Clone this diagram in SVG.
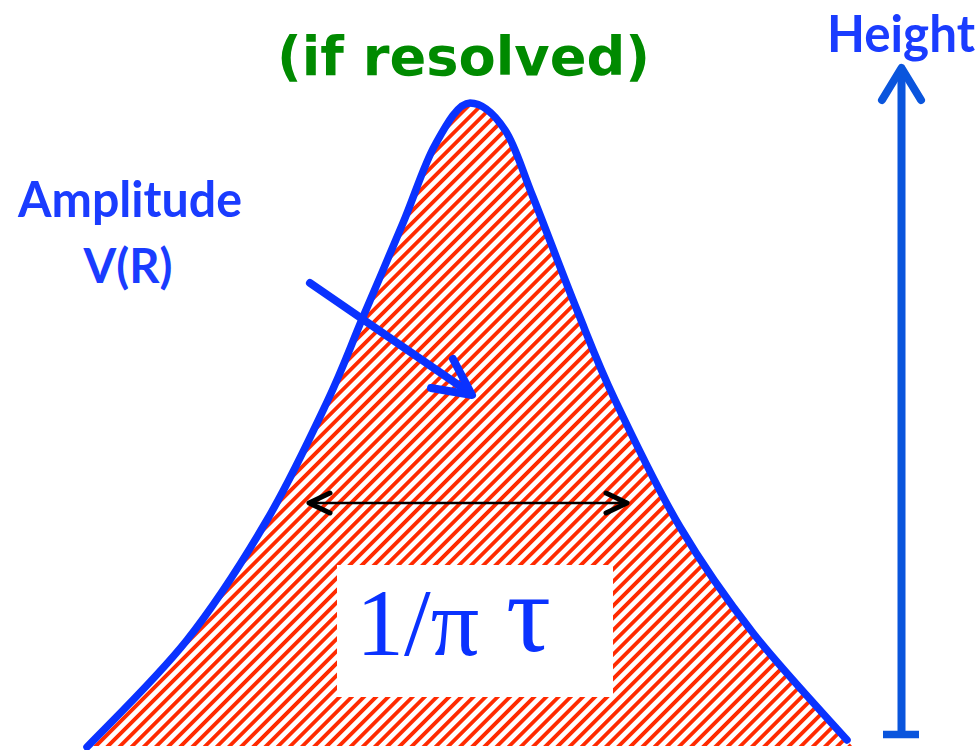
<svg xmlns="http://www.w3.org/2000/svg" width="980" height="750" viewBox="0 0 980 750">
  <style>
    .lbl { font-family: "Lato", "DejaVu Sans", sans-serif; font-weight: bold; }
    .ttl { font-family: "DejaVu Sans", "Lato", sans-serif; font-weight: bold; }
    .blue { fill: #1a3cff; }
    .math { font-family: "Liberation Serif", "DejaVu Serif", serif; fill: #0a32ff; }
    .curve { fill: none; stroke: #0a32ff; stroke-width: 7.5; stroke-linecap: round; stroke-linejoin: round; }
    .barrow { fill: none; stroke: #0a32ff; stroke-width: 8; stroke-linecap: round; stroke-linejoin: round; }
    .harrow { fill: none; stroke: #0a55dd; stroke-width: 8; stroke-linecap: round; stroke-linejoin: round; }
    .karrow { fill: none; stroke: #000; stroke-linecap: round; stroke-linejoin: round; }
  </style>
  <defs>
    <pattern id="hatch" patternUnits="userSpaceOnUse" width="8.6" height="8.6" patternTransform="rotate(45)">
      <rect x="0" y="0" width="8.6" height="8.6" fill="#ffffff"/>
      <rect x="0" y="0" width="3.8" height="8.6" fill="#ff2a00"/>
    </pattern>
  </defs>
  <rect width="980" height="750" fill="#ffffff"/>

  <g id="peak">
    <path fill="url(#hatch)" d="M87,747 C104,729 157,678 187,640 C217,602 243.7,559.7 267,520 C290.3,480.3 311,435.8 327,402 C343,368.2 350.3,346.8 363,317 C375.7,287.2 391,251.7 403,223 C415,194.3 423.8,165 435,145 C446.2,125 458,103 470,103 C482,103 494.5,114.3 505,130 C515.5,145.7 521,167 533,197 C545,227 563.3,276.2 577,310 C590.7,343.8 597.8,363.8 615,400 C632.2,436.2 657,488.2 680,527 C703,565.8 725.2,597.5 753,633 C780.8,668.5 831.3,722.2 847,740 L852,746 L87,746 Z"/>
    <path class="curve" d="M87,747 C104,729 157,678 187,640 C217,602 243.7,559.7 267,520 C290.3,480.3 311,435.8 327,402 C343,368.2 350.3,346.8 363,317 C375.7,287.2 391,251.7 403,223 C415,194.3 423.8,165 435,145 C446.2,125 458,103 470,103 C482,103 494.5,114.3 505,130 C515.5,145.7 521,167 533,197 C545,227 563.3,276.2 577,310 C590.7,343.8 597.8,363.8 615,400 C632.2,436.2 657,488.2 680,527 C703,565.8 725.2,597.5 753,633 C780.8,668.5 831.3,722.2 847,740"/>
  </g>

  <g id="width-label">
    <rect x="337" y="565" width="276" height="132" fill="#ffffff"/>
    <text class="math" x="356" y="655" font-size="96">1/π</text>
    <text class="math" x="506" y="651" font-size="112">τ</text>
  </g>

  <g id="title">
    <text class="ttl" x="277" y="75" font-size="54" fill="#008a00" textLength="373" lengthAdjust="spacingAndGlyphs">(if resolved)</text>
  </g>

  <g id="amplitude-label">
    <text class="lbl blue" x="130" y="217" font-size="50" text-anchor="middle" textLength="224" lengthAdjust="spacingAndGlyphs">Amplitude</text>
    <text class="lbl blue" x="128" y="283" font-size="48" text-anchor="middle" textLength="89" lengthAdjust="spacingAndGlyphs">V(R)</text>
  </g>

  <g id="height-label">
    <text class="lbl blue" x="827" y="52" font-size="51" textLength="148" lengthAdjust="spacingAndGlyphs">Height</text>
  </g>

  <g id="connectors">
    <g id="amplitude-arrow">
      <line class="barrow" x1="310" y1="283" x2="470" y2="393"/>
      <polyline class="barrow" points="453,359 472,395 431,388"/>
    </g>
    <g id="width-arrow">
      <line class="karrow" stroke-width="2.5" x1="310" y1="503" x2="626" y2="503"/>
      <polyline class="karrow" stroke-width="5" points="330,493 309,503 330,513"/>
      <polyline class="karrow" stroke-width="5" points="606,493 627,503 606,513"/>
    </g>
    <g id="height-arrow">
      <line class="harrow" x1="901.5" y1="70" x2="901.5" y2="734"/>
      <polyline class="harrow" points="882,100 901.5,68 921,100"/>
      <line x1="883" y1="734.5" x2="919" y2="734.5" stroke="#0a55dd" stroke-width="7.5"/>
    </g>
  </g>
</svg>
